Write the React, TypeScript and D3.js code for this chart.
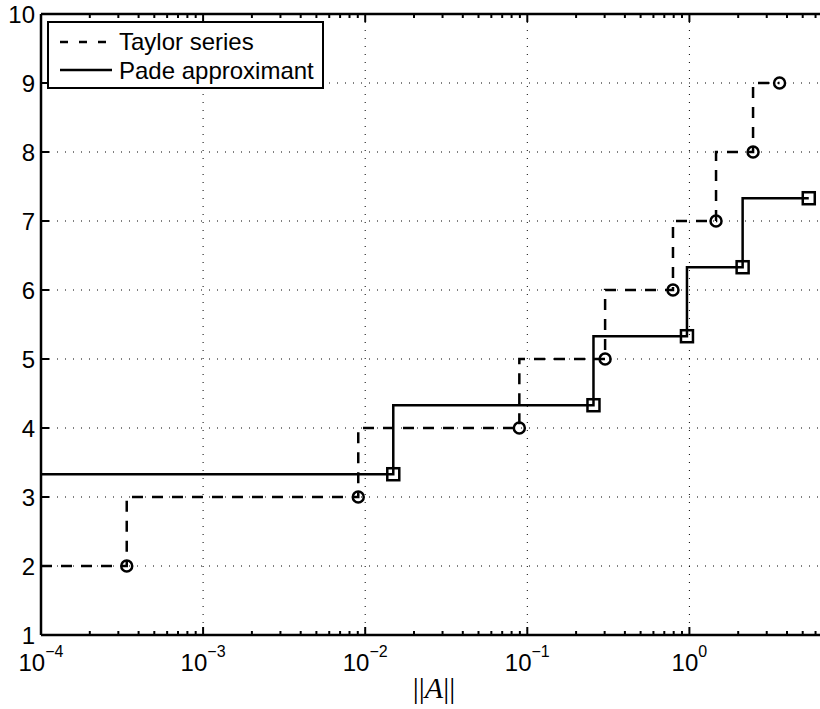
import React from "react";
import * as d3 from "d3";

// Data
const taylorX = [3.38e-4, 9.06e-3, 0.0893, 0.302, 0.792, 1.46, 2.47, 3.6];
const taylorY = [2, 3, 4, 5, 6, 7, 8, 9];
const padeX = [0.0149, 0.256, 0.966, 2.13, 5.45];
const padeY = [3.33, 4.33, 5.33, 6.33, 7.33];
const xMajorTicks = [1e-4, 1e-3, 1e-2, 1e-1, 1e0, 1e1];
const xTickLabels = [1e-4, 1e-3, 1e-2, 1e-1, 1e0];
const xTickExponents = ["−4", "−3", "−2", "−1", "0"];
const yTicks = [1, 2, 3, 4, 5, 6, 7, 8, 9, 10];
const legendLabels = ["Taylor series", "Pade approximant"];

const W = 820;
const H = 709;
const left = 41;
const top = 14;
const bottom = 635;
const decade = 162.1;
const xDomain = [1e-4, 10];

export default function App() {
  const x = d3.scaleLog().domain(xDomain).range([left, left + decade * 5]);
  const y = d3.scaleLinear().domain([1, 10]).range([bottom, top]);

  const minorTicks: number[] = [];
  for (let e = -4; e < 1; e++) {
    for (let m = 2; m <= 9; m++) minorTicks.push(m * Math.pow(10, e));
  }

  const stairs = (xs: number[], ys: number[], x0: number) => {
    const pts: [number, number][] = [];
    pts.push([x0, ys[0]]);
    for (let i = 0; i < xs.length; i++) {
      pts.push([xs[i], ys[i]]);
      if (i + 1 < ys.length) pts.push([xs[i], ys[i + 1]]);
    }
    return d3.line<[number, number]>().x((d) => x(d[0])).y((d) => y(d[1]))(pts) || "";
  };

  const font = "'Liberation Sans', Arial, Helvetica, sans-serif";
  const gridStyle = { stroke: "#000", strokeWidth: 1, strokeDasharray: "1,7" };
  const lw = 2.5;

  return (
    <div style={{ position: "absolute", left: 0, top: 0 }}>
      <svg width={W} height={H} style={{ display: "block", background: "#fff" }}>
        <rect x={0} y={0} width={W} height={H} fill="#fff" />
        {/* grid */}
        {xMajorTicks.slice(1).map((t, i) => (
          <line key={"gx" + i} x1={x(t)} x2={x(t)} y1={top} y2={bottom} {...gridStyle} />
        ))}
        {yTicks.slice(1, -1).map((t, i) => (
          <line key={"gy" + i} x1={left} x2={W + 40} y1={y(t)} y2={y(t)} {...gridStyle} />
        ))}

        {/* data lines */}
        <path d={stairs(taylorX, taylorY, xDomain[0])} fill="none" stroke="#000" strokeWidth={lw} strokeDasharray="11,9" />
        <path d={stairs(padeX, padeY, xDomain[0])} fill="none" stroke="#000" strokeWidth={lw} />

        {/* markers */}
        {taylorX.map((v, i) => (
          <circle key={"c" + i} cx={x(v)} cy={y(taylorY[i])} r={5.5} fill="none" stroke="#000" strokeWidth={lw} />
        ))}
        {padeX.map((v, i) => (
          <rect key={"s" + i} x={x(v) - 6} y={y(padeY[i]) - 6} width={12} height={12} fill="none" stroke="#000" strokeWidth={lw} />
        ))}

        {/* axes box */}
        <line x1={left} x2={W + 40} y1={bottom} y2={bottom} stroke="#000" strokeWidth={lw} />
        <line x1={left} x2={W + 40} y1={top} y2={top} stroke="#000" strokeWidth={lw} />
        <line x1={left} x2={left} y1={top} y2={bottom} stroke="#000" strokeWidth={lw} />

        {/* x ticks */}
        {xMajorTicks.map((t, i) => (
          <g key={"xt" + i}>
            <line x1={x(t)} x2={x(t)} y1={bottom} y2={bottom - 8} stroke="#000" strokeWidth={2} />
            <line x1={x(t)} x2={x(t)} y1={top} y2={top + 8} stroke="#000" strokeWidth={2} />
          </g>
        ))}
        {minorTicks.map((t, i) => (
          <g key={"xm" + i}>
            <line x1={x(t)} x2={x(t)} y1={bottom} y2={bottom - 4} stroke="#000" strokeWidth={2} />
            <line x1={x(t)} x2={x(t)} y1={top} y2={top + 4} stroke="#000" strokeWidth={2} />
          </g>
        ))}
        {xTickLabels.map((t, i) => (
          <text key={"xl" + i} x={x(t)} y={671} textAnchor="middle" fontFamily={font} fontSize={24} fill="#000">
            10
            <tspan fontSize={16} dy={-14}>{xTickExponents[i]}</tspan>
          </text>
        ))}

        {/* y ticks */}
        {yTicks.map((t, i) => (
          <g key={"yt" + i}>
            <line x1={left} x2={left + 8} y1={y(t)} y2={y(t)} stroke="#000" strokeWidth={2} />
            <text x={35} y={y(t) + 8.5} textAnchor="end" fontFamily={font} fontSize={24} fill="#000">
              {t}
            </text>
          </g>
        ))}

        {/* x label */}
        <text x={434} y={698} textAnchor="middle" fontFamily="'Liberation Serif', 'DejaVu Serif', serif" fontSize={30} fill="#000">
          ||<tspan fontStyle="italic">A</tspan>||
        </text>

        {/* legend */}
        <rect x={48} y={22} width={275} height={66} fill="#fff" stroke="#000" strokeWidth={2} />
        <line x1={60} x2={112} y1={42} y2={42} stroke="#000" strokeWidth={lw} strokeDasharray="8,11" />
        <line x1={60} x2={112} y1={70} y2={70} stroke="#000" strokeWidth={lw} />
        <text x={119} y={50} fontFamily={font} fontSize={24} fill="#000">{legendLabels[0]}</text>
        <text x={119} y={79} fontFamily={font} fontSize={24} fill="#000">{legendLabels[1]}</text>
      </svg>
    </div>
  );
}
